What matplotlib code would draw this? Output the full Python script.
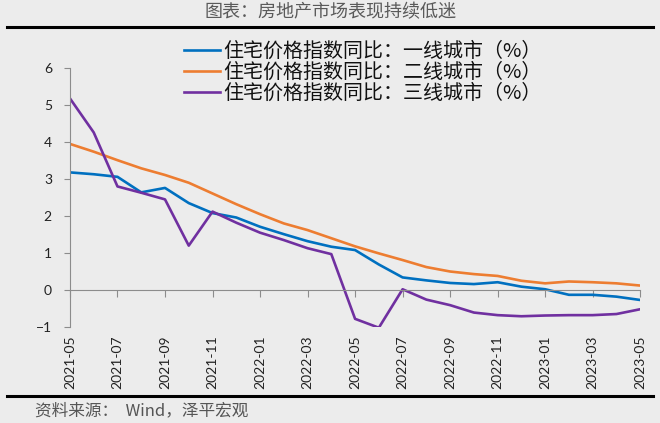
import matplotlib
matplotlib.use("Agg")
import matplotlib.pyplot as plt

plt.rcParams['font.family'] = ['Noto Sans CJK SC', 'DejaVu Sans']

months = ["2021-05", "2021-06", "2021-07", "2021-08", "2021-09", "2021-10", "2021-11",
          "2021-12", "2022-01", "2022-02", "2022-03", "2022-04", "2022-05", "2022-06",
          "2022-07", "2022-08", "2022-09", "2022-10", "2022-11", "2022-12", "2023-01",
          "2023-02", "2023-03", "2023-04", "2023-05"]

# 住宅价格指数同比 (%)
tier1 = [3.18, 3.13, 3.06, 2.64, 2.76, 2.35, 2.08, 1.96, 1.71, 1.51, 1.32, 1.17, 1.08,
         0.69, 0.34, 0.26, 0.19, 0.16, 0.21, 0.09, 0.02, -0.13, -0.13, -0.18, -0.27]
tier2 = [3.95, 3.74, 3.51, 3.29, 3.11, 2.9, 2.61, 2.32, 2.05, 1.8, 1.62, 1.4, 1.18,
         0.99, 0.81, 0.62, 0.5, 0.43, 0.38, 0.25, 0.18, 0.23, 0.21, 0.18, 0.12]
tier3 = [5.18, 4.26, 2.8, 2.63, 2.45, 1.2, 2.12, 1.82, 1.55, 1.35, 1.13, 0.97, -0.78,
         -1.02, 0.02, -0.26, -0.41, -0.61, -0.68, -0.71, -0.69, -0.68, -0.68, -0.65, -0.52]

labels = ["住宅价格指数同比：一线城市（%）",
          "住宅价格指数同比：二线城市（%）",
          "住宅价格指数同比：三线城市（%）"]
colors = ["#0070C0", "#ED7D31", "#7030A0"]

bg = "#ececec"
fig = plt.figure(figsize=(6.6, 4.23), dpi=100, facecolor=bg)
ax = fig.add_axes([0.106, 0.227, 0.864, 0.612], facecolor=bg)

x = list(range(len(months)))
for ys, lab, c in zip([tier1, tier2, tier3], labels, colors):
    ax.plot(x, ys, color=c, lw=1.9, label=lab, solid_joinstyle='round')

ax.set_xlim(0, len(months) - 1)
ax.set_ylim(-1, 6)
ax.set_yticks(range(-1, 7))

for s in ["top", "right"]:
    ax.spines[s].set_visible(False)
ax.spines["left"].set_color("#8c8c8c")
ax.spines["bottom"].set_position(("data", 0))
ax.spines["bottom"].set_color("#8c8c8c")
ax.set_xticks(x[::2])
ax.tick_params(axis="x", direction="out", length=5, color="#8c8c8c", labelbottom=False)
ax.tick_params(axis="y", direction="out", length=4, color="#8c8c8c", pad=9,
               labelsize=10, labelcolor="#222222")

sec = ax.secondary_xaxis("bottom")
sec.set_xticks(x[::2])
sec.set_xticklabels(months[::2], rotation=90, fontsize=10, color="#222222",
                    family=["Lato", "DejaVu Sans"])
sec.tick_params(length=0, pad=6)
sec.spines["bottom"].set_visible(False)
for t in ax.get_yticklabels():
    t.set_family(["Lato", "DejaVu Sans"])

leg = ax.legend(loc="upper left", bbox_to_anchor=(0.2, 1.105), frameon=False,
                prop={"size": 14.4, "weight": "medium"}, handlelength=1.8,
                handletextpad=0.15, labelspacing=0.0, borderaxespad=0, borderpad=0)
for t in leg.get_texts():
    t.set_color("#111111")

fig.text(0.5, 0.972, "图表：房地产市场表现持续低迷", ha="center", va="center",
         fontsize=13, color="#5a5a5a")
fig.add_artist(plt.Line2D([0.01, 0.99], [0.936, 0.936], color="black", lw=2.2))
fig.add_artist(plt.Line2D([0.01, 0.99], [0.064, 0.064], color="black", lw=2.2))
fig.text(0.053, 0.028, "资料来源：  Wind，泽平宏观", ha="left", va="center",
         fontsize=12, color="#555555", style="italic")

fig.savefig("out.png", dpi=100, facecolor=bg)
